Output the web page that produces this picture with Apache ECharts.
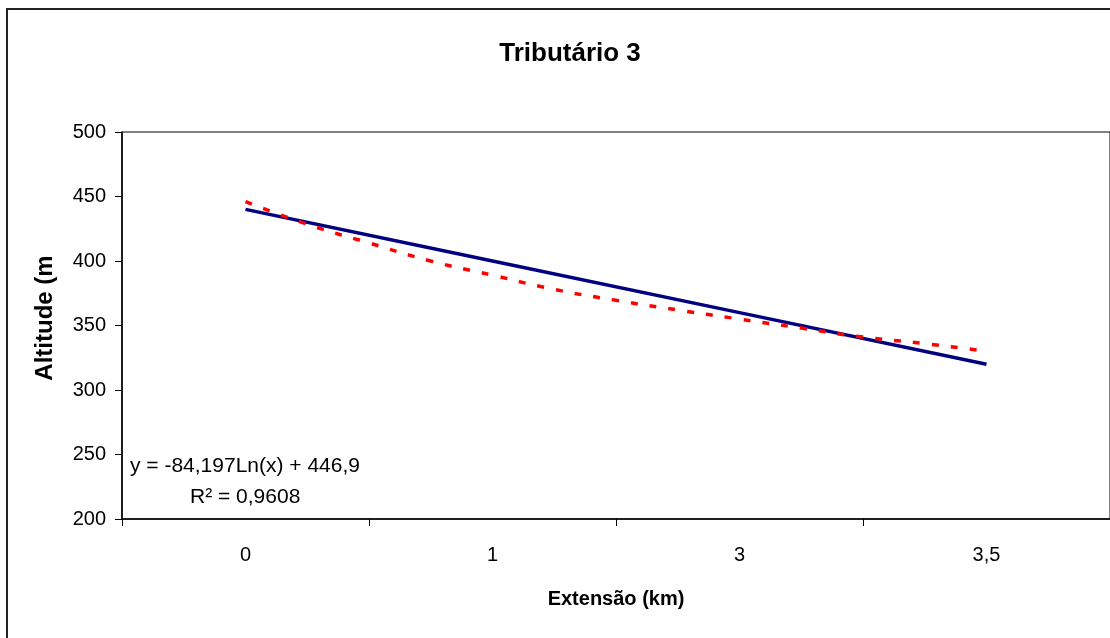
<!DOCTYPE html>
<html>
<head>
<meta charset="utf-8">
<script src="https://cdn.jsdelivr.net/npm/echarts@6/dist/echarts.min.js"></script>
<style>
html,body{margin:0;padding:0;background:#fff;}
#chart{width:1110px;height:638px;}
</style>
</head>
<body>
<div id="chart"></div>
<script>
// ---- data ----
const chartTitle = 'Tributário 3';
const xAxisName = 'Extensão (km)';
const yAxisName = 'Altitude (m)';
const categories = ['0', '1', '3', '3,5'];
const altitude = [440, 400, 360, 320];
// logarithmic trend line (x in category units)
const trendX = [0, 0.25, 0.5, 0.75, 1, 1.25, 1.5, 1.75, 2, 2.25, 2.5, 2.75, 3];
const trendY = [446, 428.5, 414, 400, 389, 378, 369.5, 362, 355, 348, 341, 336, 330];
const yMin = 200, yMax = 500, yStep = 50;
const equationText = 'y = -84,197Ln(x) + 446,9';
const r2Text = 'R² = 0,9608';

const FONT = "'Liberation Sans', Arial, sans-serif";
const chart = echarts.init(document.getElementById('chart'), null, {renderer: 'canvas'});

const option = {
  animation: false,
  backgroundColor: '#fff',
  textStyle: {fontFamily: FONT},
  title: {
    text: chartTitle,
    left: 565,
    top: 36,
    textAlign: 'center',
    textStyle: {fontSize: 26, fontWeight: 'bold', color: '#000', fontFamily: FONT}
  },
  grid: {
    left: 122, top: 132, width: 988, height: 387,
    show: true, borderColor: '#000', borderWidth: 1, backgroundColor: 'transparent'
  },
  xAxis: [
    {
      type: 'category',
      data: categories,
      boundaryGap: true,
      axisLine: {onZero: false, lineStyle: {color: '#000', width: 1.5}},
      axisTick: {show: true, length: 7, lineStyle: {color: '#000', width: 1}},
      axisLabel: {margin: 26, fontSize: 20, color: '#000', fontFamily: FONT},
      splitLine: {show: false},
      name: xAxisName,
      nameLocation: 'middle',
      nameGap: 70,
      nameTextStyle: {fontSize: 20, fontWeight: 'bold', color: '#000', fontFamily: FONT}
    },
    {
      type: 'value', min: -0.5, max: 3.5, show: false
    }
  ],
  yAxis: {
    type: 'value',
    min: yMin, max: yMax, interval: yStep,
    axisLine: {show: true, onZero: false, lineStyle: {color: '#000', width: 1.5}},
    axisTick: {show: true, length: 7, lineStyle: {color: '#000', width: 1}},
    axisLabel: {margin: 16, fontSize: 20, color: '#000', fontFamily: FONT},
    splitLine: {show: false}
  },
  series: [
    {
      name: 'Altitude',
      type: 'line',
      xAxisIndex: 0,
      data: altitude,
      symbol: 'none',
      lineStyle: {color: '#000080', width: 3.5},
      z: 2
    },
    {
      name: 'Log. (Altitude)',
      type: 'line',
      xAxisIndex: 1,
      data: trendX.map((x, i) => [x, trendY[i]]),
      symbol: 'none',
      smooth: true,
      lineStyle: {color: '#ff0000', width: 3.5, type: [7, 12]},
      z: 3
    }
  ],
  graphic: [
    {
      type: 'rect',
      shape: {x: 7, y: 9, width: 1200, height: 700},
      style: {fill: 'none', stroke: '#222', lineWidth: 2},
      silent: true, z: 0
    },
    {
      type: 'text',
      x: 45, y: 314,
      rotation: Math.PI / 2,
      style: {text: yAxisName, font: 'bold 24px ' + FONT, fill: '#000', textAlign: 'center', textVerticalAlign: 'middle'},
      z: 10
    },
    {
      type: 'rect',
      shape: {x: 20, y: 200, width: 50, height: 56},
      style: {fill: '#fff'},
      silent: true, z: 20
    },
    {
      type: 'text',
      x: 130, y: 466,
      style: {text: equationText, font: '21px ' + FONT, fill: '#000', textAlign: 'left', textVerticalAlign: 'middle'},
      z: 10
    },
    {
      type: 'text',
      x: 190, y: 497,
      style: {text: r2Text, font: '21px ' + FONT, fill: '#000', textAlign: 'left', textVerticalAlign: 'middle'},
      z: 10
    }
  ]
};
chart.setOption(option);
</script>
</body>
</html>
